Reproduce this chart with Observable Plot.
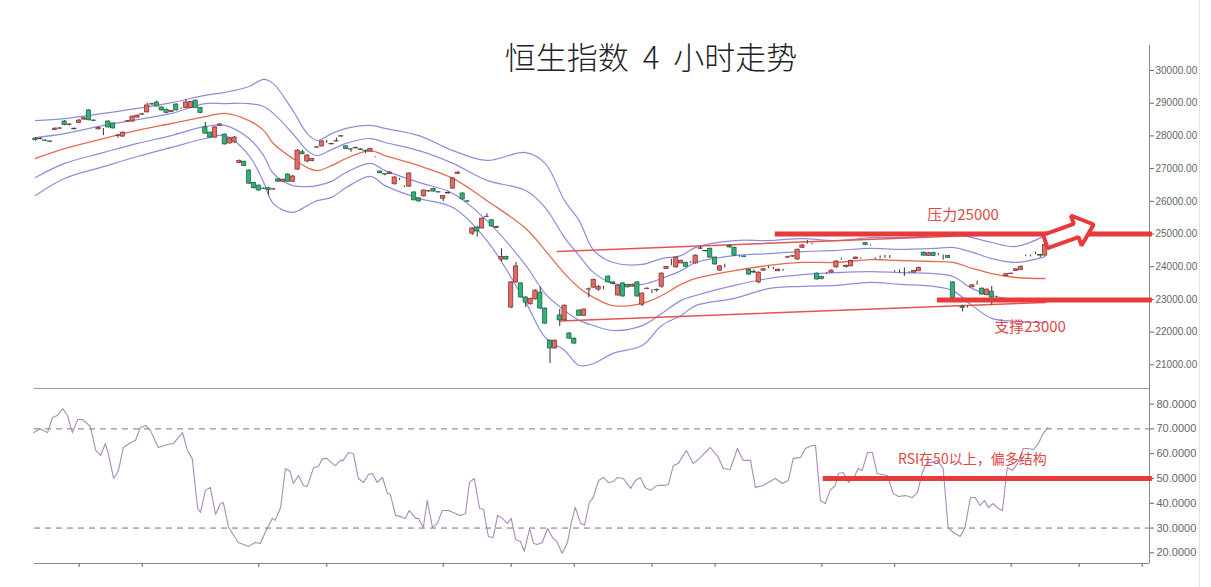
<!DOCTYPE html>
<html><head><meta charset="utf-8">
<script src="https://cdn.jsdelivr.net/npm/d3@7"></script>
<script src="https://cdn.jsdelivr.net/npm/@observablehq/plot@0.6"></script>
<style>
body{margin:0;background:#fff;}
#wrap{position:relative;width:1211px;height:587px;overflow:hidden;background:#fff;}
#title{position:absolute;left:0;width:1302px;top:35px;text-align:center;font-family:"Noto Sans CJK SC",sans-serif;font-size:31px;color:#222;line-height:42px;word-spacing:7px;font-weight:300;}
#top,#bot{position:absolute;left:0;}
#top{top:0}
#bot{top:388px}
#border{position:absolute;left:1199px;top:0;width:1px;height:587px;background:#e2e2e2}
</style></head><body>
<div id="wrap"><div id="top"></div><div id="bot"></div><div id="title">恒生指数 4 小时走势</div><div id="border"></div></div>
<script>
// ---- 4-hour candles (bar index = position in arrays) ----
const open = [27920,27900,27860,27830,28180,28220,28440,28330,28220,28400,
28500,28780,28470,28200,28200,28440,28380,28000,27980,28440,
28440,28560,28650,28720,28960,29020,28870,28800,28730,28960,
28830,28850,28850,29080,28850,28260,28100,27950,28310,28040,
27770,27800,27170,27210,26940,26560,26480,26390,26400,26360,
26670,26600,26820,26600,26970,27500,27220,27230,27640,27680,
27800,27740,27830,27980,27680,27590,27620,27590,27550,27520,
27340,26910,26830,26830,26520,26660,26450,26450,26270,26090,
26150,26300,26380,26280,26080,26240,26390,26840,26240,26000,
25010,25200,25170,25520,25420,25180,24220,24300,22750,23520,
23490,23060,22850,23000,23210,22720,21740,21500,22510,22360,
21960,21800,22660,22500,23300,23360,23300,23370,23700,23520,
23120,23490,23440,23390,23520,22840,23320,23280,23280,23390,
23930,24060,23980,24100,24120,24130,24100,24550,24480,24550,
24280,23880,24000,24630,24580,24310,24310,23900,23840,23520,
23880,23960,23930,23860,23880,24280,24310,24220,24580,24720,
24690,23790,23690,23790,23820,23980,24220,23990,24010,24230,
24250,24720,24650,24250,24260,24280,24280,23850,23830,23820,
23820,23820,23860,24430,24330,24420,24360,24330,24330,23520,
23000,22780,22760,23370,23460,23330,23130,23240,23060,23000,
23720,23780,23870,23900,24330,24330,24390,24360,24340];
const high = [27950,27940,27880,27850,28250,28260,28470,28370,28240,28500,
28570,28800,28490,28270,28230,28460,28400,28040,28120,28470,
28610,28640,28690,29000,29000,29070,28890,28820,28780,28980,
28860,29110,29060,29100,28870,28410,28120,28280,28370,28060,
27950,27980,27260,27230,26970,26580,26500,26410,26430,26390,
26690,26680,26840,26790,27580,27560,27420,27300,27670,27850,
27860,27770,27930,28010,27700,27610,27660,27610,27560,27620,
27360,26930,26850,26900,26750,26700,26470,26870,26290,26110,
26350,26330,26400,26290,26180,26290,26720,26900,26260,26020,
25190,25220,25490,25620,25440,25240,24550,24320,23550,24130,
23510,23080,23040,23290,23380,22740,21760,21760,22690,22830,
21980,21820,22680,22710,23350,23620,23420,23400,23720,23540,
23440,23510,23460,23470,23540,23200,23350,23300,23320,23810,
24010,24230,24300,24200,24140,24160,24360,24620,24500,24570,
24300,24030,24080,24660,24600,24340,24330,23920,23900,23840,
23940,24010,23980,23930,23920,24320,24340,24540,24680,24800,
24720,23810,23710,23820,23900,24180,24260,24050,24200,24300,
24270,24740,24670,24270,24330,24350,24340,23880,23900,23960,
23850,23890,23990,24450,24440,24440,24400,24360,24350,23540,
23030,22820,22790,23450,23560,23350,23320,23400,23100,23020,
23790,23800,23940,24020,24350,24360,24450,24380,24690];
const low = [27840,27880,27830,27800,28160,28200,28310,28300,28190,28390,
28480,28460,28440,28180,28010,28240,28210,27930,27960,28420,
28420,28550,28640,28700,28940,28890,28760,28680,28720,28760,
28810,28830,28840,28850,28680,28050,27930,27930,28300,27720,
27750,27780,27150,27060,26520,26380,26310,26360,26180,26340,
26580,26590,26580,26580,26950,27420,27180,27220,27620,27660,
27770,27730,27820,27960,27580,27500,27600,27550,27460,27510,
27330,26840,26780,26820,26500,26640,26420,26430,26010,25960,
26130,26280,26280,26250,25990,26220,26370,26830,26040,25970,
24960,24900,25150,25500,25210,25170,24150,24200,22720,23500,
23040,22750,22830,22980,22700,22240,21040,21480,22170,22340,
21780,21630,22480,22480,23050,23340,23250,23290,23500,23440,
23100,23070,23350,23380,23070,22780,23300,23180,23220,23340,
23920,24030,23960,24090,23980,24100,24080,24530,24450,24260,
24050,23860,23960,24570,24320,24290,24280,23740,23800,23480,
23860,23940,23910,23850,23860,24250,24290,24200,24560,24690,
24670,23590,23600,23770,23810,23960,24200,23960,24000,24220,
24230,24650,24630,24220,24240,24260,24250,23830,23810,23700,
23800,23810,23850,24320,24320,24310,24340,24200,24250,23000,
22950,22620,22740,23360,23440,23130,23110,22820,23040,22980,
23710,23760,23860,23890,24310,24300,24370,24280,24320];
const close = [27870,27910,27850,27820,28220,28230,28330,28350,28200,28470,
28540,28480,28460,28240,28200,28260,28230,28010,28100,28450,
28590,28620,28660,28930,28970,28900,28780,28700,28760,28780,
28830,29020,29040,28860,28700,28070,27950,28260,28350,27740,
27920,27950,27230,27080,26540,26400,26330,26380,26350,26370,
26600,26660,26600,26760,27550,27440,27400,27290,27650,27830,
27800,27750,27840,27990,27600,27580,27630,27570,27540,27600,
27340,26860,26820,26880,26730,26660,26450,26850,26030,26000,
26330,26310,26300,26270,26160,26250,26700,26880,26060,25990,
25170,25080,25470,25530,25230,25220,24300,24220,23520,24010,
23060,22900,23020,23270,22720,22260,21500,21740,22360,22810,
21800,21650,22500,22690,23310,23600,23380,23370,23520,23470,
23420,23090,23370,23450,23090,23180,23330,23280,23290,23790,
23990,24060,24280,24180,24000,24130,24340,24560,24470,24280,
24070,24010,24000,24590,24340,24310,24300,23760,23820,23820,
23920,23960,23930,23910,23880,24290,24320,24520,24650,24720,
24690,23610,23620,23790,23880,24160,24220,24030,24180,24280,
24250,24670,24650,24250,24260,24280,24280,23850,23830,23820,
23820,23870,23960,24340,24410,24330,24360,24330,24270,23030,
23000,22740,22760,23430,23460,23150,23300,23060,23060,23000,
23770,23790,23920,24000,24330,24330,24390,24340,24660];

// ---- Bollinger band readings (bar index, value) ----
const bandIdx = [0,6,14,21,28,35,39,44,47,49,53,56,58,61,64,69,72,79,86,93,101,105,109,112,115,119,125,129,133,136,144,151,158,165,172,178,185,189,193,197,202,208];
const bandUpper2 = [28470,28530,28690,28840,29020,29240,29330,29510,29730,29600,28780,28070,27860,28070,28230,28320,28230,28010,27550,27250,27490,27160,26020,25410,24500,24130,24070,24250,24340,24590,24800,24800,24860,24800,24890,24890,24950,25020,24890,24740,24620,24950];
const bandUpper1 = [27950,28070,28320,28500,28690,28990,28990,28990,28900,28690,28070,27550,27400,27580,27770,27920,27800,27550,27160,26640,26330,25810,24890,24340,23820,23490,23460,23640,23880,24130,24340,24400,24460,24500,24560,24530,24560,24590,24440,24250,24130,24310];
const bandMid = [27310,27610,27920,28170,28380,28590,28690,28470,28170,27770,27310,27030,26940,27090,27310,27550,27400,27090,26700,26020,25170,24500,23790,23360,23060,22810,22880,23120,23460,23640,23880,24040,24130,24130,24220,24190,24160,24130,23950,23790,23670,23640];
const bandLower1 = [26730,27160,27490,27770,28010,28290,28320,27920,27400,26850,26480,26450,26480,26610,26880,27160,26940,26580,26240,25410,24040,23180,22660,22360,22200,22050,22200,22570,22970,23120,23430,23640,23760,23820,23850,23820,23790,23700,23330,23120,23000,22970];
const bandLower2 = [26180,26700,27060,27370,27650,27920,28010,27400,26580,25930,25660,25870,26020,26120,26420,26760,26480,26090,25810,24800,22910,21840,21440,20980,21040,21350,21590,22200,22510,22810,23030,23330,23400,23430,23520,23460,23400,23270,22810,22420,22330,22290];

// ---- RSI readings (bar index, value) ----
const rsiIdx = [-0.4,1.0,2.5,3.5,4.5,5.6,6.6,7.6,8.7,9.7,11.3,12.4,13.4,14.4,15.0,16.1,17.1,18.1,19.6,20.6,21.6,22.7,23.7,
25.3,27.2,28.4,30.3,31.3,32.3,33.4,34.0,35.0,36.0,37.1,38.1,38.7,39.8,41.8,43.9,45.3,46.3,47.8,48.8,49.4,50.5,51.5,52.5,53.1,54.2,55.2,56.0,57.3,58.3,59.1,60.1,61.2,61.8,62.8,63.4,64.5,65.5,66.5,67.6,68.6,69.4,70.4,71.5,72.5,73.1,74.2,75.2,
76.2,77.0,78.3,78.9,79.9,80.7,81.8,82.8,83.8,85.1,86.5,87.5,88.6,89.4,90.4,91.5,92.3,93.3,94.3,95.2,96.2,97.2,98.0,98.9,99.9,100.7,101.8,102.6,103.4,104.4,105.5,106.5,107.5,108.5,109.6,110.4,111.2,112.3,113.1,114.1,114.9,116.0,117.0,118.0,119.1,119.9,121.1,122.6,123.6,124.6,125.6,126.7,128.1,129.4,130.4,131.4,132.4,134.1,135.5,137.0,139.0,140.7,141.7,143.1,144.6,145.8,147.3,148.3,149.9,152.4,153.9,155.1,156.1,157.6,
158.6,160.0,160.7,161.7,162.7,163.7,164.8,165.4,166.4,167.5,168.5,169.5,170.3,171.4,172.4,173.4,174.5,175.5,176.7,177.8,179.2,180.6,181.7,182.7,183.7,184.8,185.8,187.0,188.0,189.1,190.5,191.5,192.6,193.6,194.6,195.5,196.3,197.3,198.3,199.2,200.2,201.2,202.3,203.5,204.5,205.6,206.6,207.6,208.6];
const rsiVal = [68.5,70,68.5,74.6,75.4,78.2,75.4,68.5,73.8,73.8,71,61.3,59.3,64,60,50,53.2,62.5,64.5,65.3,70.6,71.4,69.3,
62.5,63.7,64.1,68.5,61.3,58,37.9,36.3,45.2,46.4,35.5,39.9,40.3,30.2,24.2,22.6,24.2,23.8,30.2,33.9,33.1,38.3,54,52.8,48,51.2,47.2,46.8,54.4,54.8,58,58,56,55.2,57.3,57.3,60.5,60,50,48.4,51.6,52,48.4,50.4,44,43.5,35.1,34.7,
33.9,37.1,33.9,33.9,30.2,41.1,30.2,31.9,37.1,37.1,35.9,35.1,35.9,48.4,50,37.9,37.5,26.6,26.2,35.1,33.9,31.9,33.9,25.4,24.6,20.6,29.8,23.8,23.4,24.2,29.8,26.2,24.2,19.8,24.2,32.3,38.3,31.9,31.1,40.3,42.3,49.2,50.4,48.4,48.8,50.4,50,46,49.2,50.4,46.4,45.2,47.2,47.2,47.6,55.2,56,61.3,56,58.5,62.5,58.5,54,53.6,62.1,57.3,57.3,46.4,47.2,50,48,49.2,58,58.5,
62.1,63.3,63.3,41.1,39.9,45.2,47.2,52,52.4,48.4,50,54,53.2,60.5,60.5,52,51.6,51.2,44,42.7,43.1,42.3,44.4,52.4,56.5,56.5,57.3,54,30.2,28.2,26.6,30.2,42.3,42.3,39.1,41.1,38.3,39.9,37.9,37.1,54.4,53.2,56,62.1,62.1,61.7,64.1,68.1,70.6];

// ---- axes ----
const priceTicks = [21000,22000,23000,24000,25000,26000,27000,28000,29000,30000];
const rsiTicks = [20,30,40,50,60,70,80];
const periodTicks = [9,22,46,60,84,98,111,127,140,162,177,201,215,228];

// ---- annotations ----
const resistance = 25000, support = 22980, rsiMid = 50;
const upperChannel = [{t:107.5, v:24465},{t:208.4, v:25046}];
const lowerChannel = [{t:108.1, v:22340},{t:208.0, v:22906}];
const arrowT = [207.6,213.9,213.3,218.0,215.5,214.9,208.5,207.6];
const arrowV = [24973,25309,25566,25291,24649,24906,24569,24973];

const RED = "#e8393b", PURPLE = "#8e8ddc", MIDRED = "#e66a4f";
const XD = [-0.2, 229.5];
const font = "'Liberation Sans', Arial, sans-serif";
const cjk = "'Noto Sans CJK SC', sans-serif";

const bars = open.map((o, i) => ({i, o, h: high[i], l: low[i], c: close[i]}));
const band = vals => bandIdx.map((t, k) => ({t, v: vals[k]}));
const rsi = rsiIdx.map((t, k) => ({t, v: rsiVal[k]}));
const arrow = arrowT.map((t, k) => ({t, v: arrowV[k]}));

const topPlot = Plot.plot({
  width: 1199, height: 389, marginLeft: 34, marginRight: 50, marginTop: 45, marginBottom: 1,
  x: {domain: XD, axis: null},
  y: {domain: [20276, 30765]},
  style: {fontFamily: font, fontSize: "10px", color: "#666", background: "transparent", overflow: "hidden"},
  marks: [
    Plot.ruleY([20276], {stroke: "#999"}),
    Plot.ruleX([XD[1]], {stroke: "#888"}),
    Plot.axisY({anchor: "right", ticks: priceTicks, tickFormat: d => d.toFixed(2), tickSize: 4, tickPadding: 2, label: null, fontSize: 10}),
    Plot.line(band(bandUpper2), {x: "t", y: "v", stroke: PURPLE, strokeWidth: 1.2, curve: "catmull-rom"}),
    Plot.line(band(bandUpper1), {x: "t", y: "v", stroke: PURPLE, strokeWidth: 1.2, curve: "catmull-rom"}),
    Plot.line(band(bandMid), {x: "t", y: "v", stroke: MIDRED, strokeWidth: 1.3, curve: "catmull-rom"}),
    Plot.line(band(bandLower1), {x: "t", y: "v", stroke: PURPLE, strokeWidth: 1.2, curve: "catmull-rom"}),
    Plot.line(band(bandLower2), {x: "t", y: "v", stroke: PURPLE, strokeWidth: 1.2, curve: "catmull-rom"}),
    Plot.line(upperChannel, {x: "t", y: "v", stroke: "#e25555", strokeWidth: 1.5}),
    Plot.line(lowerChannel, {x: "t", y: "v", stroke: "#e25555", strokeWidth: 1.5}),
    Plot.ruleX(bars, {x: "i", y1: "l", y2: "h", stroke: "#333", strokeWidth: 1}),
    Plot.rect(bars, {x1: d => d.i - 0.44, x2: d => d.i + 0.44, y1: "o", y2: "c",
      fill: d => d.c > d.o ? "#e66a64" : d.c < d.o ? "#2eb27a" : "#222",
      stroke: d => d.c > d.o ? "#7a2b2b" : d.c < d.o ? "#1d5a3d" : "#222",
      strokeWidth: d => d.c === d.o ? 1.2 : 0.7}),
    Plot.ruleY([resistance], {x1: 152.4, x2: 230.1, stroke: RED, strokeWidth: 5}),
    Plot.ruleY([support], {x1: 185.8, x2: 230.1, stroke: RED, strokeWidth: 5}),
    Plot.line(arrow, {x: "t", y: "v", stroke: RED, strokeWidth: 4, fill: "white", strokeLinejoin: "miter"}),
    Plot.text([{t: 191.1, v: 25566, s: "压力25000"}], {x: "t", y: "v", text: "s", fill: "#e04848", fontSize: 15, fontFamily: cjk}),
    Plot.text([{t: 204.9, v: 22141, s: "支撑23000"}], {x: "t", y: "v", text: "s", fill: "#e04848", fontSize: 15, fontFamily: cjk})
  ]
});
document.getElementById("top").appendChild(topPlot);

const botPlot = Plot.plot({
  width: 1199, height: 199, marginLeft: 34, marginRight: 50, marginTop: 0, marginBottom: 24,
  x: {domain: XD},
  y: {domain: [15.7, 86.3]},
  style: {fontFamily: font, fontSize: "11px", color: "#666", background: "transparent", overflow: "hidden"},
  marks: [
    Plot.ruleY([70, 30], {stroke: "#777", strokeDasharray: "6,5"}),
    Plot.ruleY([15.7], {stroke: "#888"}),
    Plot.ruleX([XD[1]], {stroke: "#888"}),
    Plot.axisY({anchor: "right", ticks: rsiTicks, tickFormat: d => d.toFixed(4), tickSize: 4, tickPadding: 3, label: null}),
    Plot.axisX({ticks: periodTicks, tickFormat: () => "", tickSize: 4, label: null}),
    Plot.line(rsi, {x: "t", y: "v", stroke: "#a98ab8", strokeWidth: 1.1}),
    Plot.ruleY([rsiMid], {x1: 162.3, x2: 230.1, stroke: RED, strokeWidth: 5}),
    Plot.text([{t: 193, v: 57.7, s: "RSI在50以上，偏多结构"}], {x: "t", y: "v", text: "s", fill: "#e04848", fontSize: 14, fontFamily: cjk})
  ]
});
document.getElementById("bot").appendChild(botPlot);
</script>
</body></html>
